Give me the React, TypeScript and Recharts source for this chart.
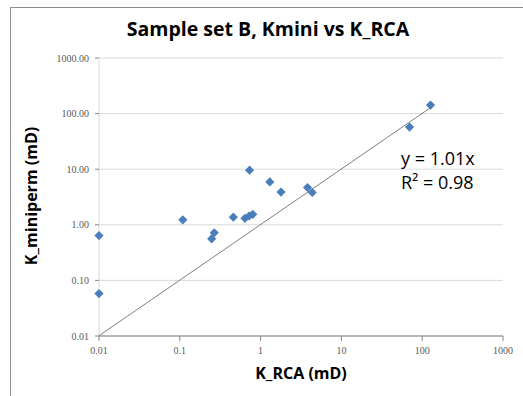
import { CartesianGrid, Scatter, ScatterChart, XAxis, YAxis } from "recharts";

const kRca = [0.01, 0.01, 0.109, 0.248, 0.267, 0.46, 0.64, 0.72, 0.8, 0.73, 1.3, 1.79, 3.81, 4.36, 69.7, 126.7];
const kMiniperm = [0.64, 0.058, 1.23, 0.56, 0.72, 1.37, 1.31, 1.44, 1.54, 9.6, 5.9, 3.87, 4.69, 3.81, 57.3, 142.6];
const logTicks = [0.01, 0.1, 1, 10, 100, 1000];
const trendSlope = 1.01;
const rSquared = 0.98;

const points = kRca.map((x, i) => ({ x, y: kMiniperm[i] }));
const xMin = Math.min(...kRca);
const xMax = Math.max(...kRca);
const trend = [
  { x: xMin, y: trendSlope * xMin },
  { x: xMax, y: trendSlope * xMax },
];

const tickFont = { fontFamily: "Liberation Serif", fontSize: 10, fill: "#595959" };
const labelFont = "Open Sans, sans-serif";

const Diamond = (props: any) => {
  const { cx, cy } = props;
  const r = 4.6;
  return (
    <polygon
      points={`${cx},${cy - r} ${cx + r},${cy} ${cx},${cy + r} ${cx - r},${cy}`}
      fill="#4a7ebb"
    />
  );
};

export default function App() {
  return (
    <div
      style={{
        position: "absolute",
        left: 0,
        top: 0,
        width: 523,
        height: 396,
        overflow: "hidden",
        background: "#fff",
      }}
    >
      <div
        style={{
          position: "absolute",
          left: 10,
          top: 7,
          width: 600,
          height: 500,
          border: "1px solid #8c8c8c",
        }}
      />
      <ScatterChart width={523} height={396} margin={{ top: 58, right: 20, bottom: 30, left: 10 }}>
        <CartesianGrid vertical={false} stroke="#d9d9d9" />
        <XAxis
          type="number"
          dataKey="x"
          scale="log"
          domain={[0.01, 1000]}
          ticks={logTicks}
          height={30}
          stroke="#868686"
          tickSize={5}
          tickMargin={6}
          tick={tickFont}
          tickFormatter={(v) => String(v)}
        />
        <YAxis
          type="number"
          dataKey="y"
          scale="log"
          domain={[0.01, 1000]}
          ticks={logTicks}
          width={89}
          stroke="#d9d9d9"
          tickLine={{ stroke: "#868686" }}
          tickSize={4}
          tickMargin={6}
          tick={tickFont}
          tickFormatter={(v) => Number(v).toFixed(2)}
        />
        <Scatter
          data={trend}
          line={{ stroke: "#7f7f7f", strokeWidth: 1 }}
          shape={() => <g />}
          isAnimationActive={false}
        />
        <Scatter data={points} shape={<Diamond />} isAnimationActive={false} />
      </ScatterChart>
      <div
        style={{
          position: "absolute",
          left: 0,
          width: 536,
          top: 15,
          textAlign: "center",
          fontFamily: labelFont,
          fontWeight: 700,
          fontSize: 19.5,
          color: "#000",
        }}
      >
        Sample set B, Kmini vs K_RCA
      </div>
      <div
        style={{
          position: "absolute",
          left: 99,
          width: 404,
          top: 362,
          textAlign: "center",
          fontFamily: labelFont,
          fontWeight: 700,
          fontSize: 16,
        }}
      >
        K_RCA (mD)
      </div>
      <div
        style={{
          position: "absolute",
          left: 31,
          top: 196,
          transform: "translate(-50%, -50%) rotate(-90deg)",
          whiteSpace: "nowrap",
          fontFamily: labelFont,
          fontWeight: 700,
          fontSize: 16,
        }}
      >
        K_miniperm (mD)
      </div>
      <div
        style={{
          position: "absolute",
          left: 401,
          top: 146,
          fontFamily: labelFont,
          fontSize: 18,
          lineHeight: "24px",
          color: "#000",
        }}
      >
        <div>y = {trendSlope.toFixed(2)}x</div>
        <div>R² = {rSquared.toFixed(2)}</div>
      </div>
    </div>
  );
}
